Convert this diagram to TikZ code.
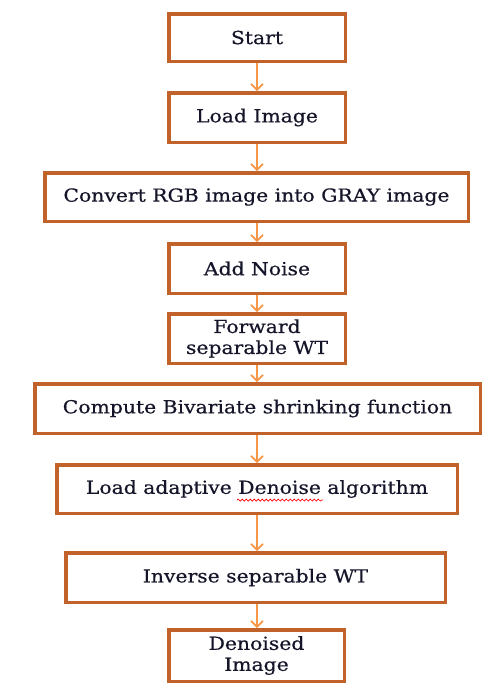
\documentclass[tikz,border=0pt]{standalone}
\usepackage{fontspec}
\setmainfont{DejaVu Serif}[FakeStretch=1.13,FakeBold=0.5]
\usetikzlibrary{arrows.meta,decorations.pathmorphing}
\definecolor{boxc}{HTML}{C0622A}
\definecolor{arrc}{HTML}{F79646}
\definecolor{txtc}{HTML}{15152A}
\tikzset{
  stepbox/.style={draw=boxc, line width=3.5pt, fill=white, inner sep=0pt, align=center,
    text=txtc, font=\fontsize{18}{21}\selectfont},
  flow/.style={draw=arrc, line width=1.6pt, -{Straight Barb[length=6pt,width=12pt,line width=1.6pt]}}
}
\begin{document}
\begin{tikzpicture}[x=1pt,y=-1pt]
\useasboundingbox (0,0) rectangle (493,694);
\node[stepbox, minimum width=176.5pt, minimum height=47.5pt] (s1) at (257,37.5) {Start};
\node[stepbox, minimum width=176.5pt, minimum height=49.5pt] (s2) at (257,117.5) {Load Image};
\node[stepbox, minimum width=423.5pt, minimum height=48.5pt] (s3) at (256.5,197) {Convert RGB image into GRAY image};
\node[stepbox, minimum width=176.5pt, minimum height=49.5pt] (s4) at (257,268.5) {Add Noise};
\node[stepbox, minimum width=176.5pt, minimum height=49.5pt] (s5) at (257,338.5) {Forward\\separable WT};
\node[stepbox, minimum width=445.5pt, minimum height=49.5pt] (s6) at (257.5,408.5) {Compute Bivariate shrinking function};
\node[stepbox, minimum width=400.5pt, minimum height=48.5pt] (s7) at (257,489) {Load adaptive Denoise algorithm};
\node[stepbox, minimum width=379.5pt, minimum height=49.5pt] (s8) at (255.5,577.5) {Inverse separable WT};
\node[stepbox, minimum width=175.5pt, minimum height=51.5pt] (s9) at (256.5,655.5) {Denoised\\Image};
\draw[flow] (s1.south) -- (s1.south |- s2.north);
\draw[flow] (s2.south) -- (s2.south |- s3.north);
\draw[flow] (s3.south -| s1.south) -- (s1.south |- s4.north);
\draw[flow] (s4.south) -- (s4.south |- s5.north);
\draw[flow] (s5.south) -- (s5.south |- s6.north);
\draw[flow] (s6.south -| s1.south) -- (s1.south |- s7.north);
\draw[flow] (s7.south) -- (s7.south |- s8.north);
\draw[flow] (s8.south -| s1.south) -- (s1.south |- s9.north);
\coordinate (w1) at (237,500);
\coordinate (w2) at (323,500);
\draw[red, line width=0.7pt, decorate, decoration={snake, amplitude=1pt, segment length=4pt}] (w1) -- (w2);
\end{tikzpicture}
\end{document}
